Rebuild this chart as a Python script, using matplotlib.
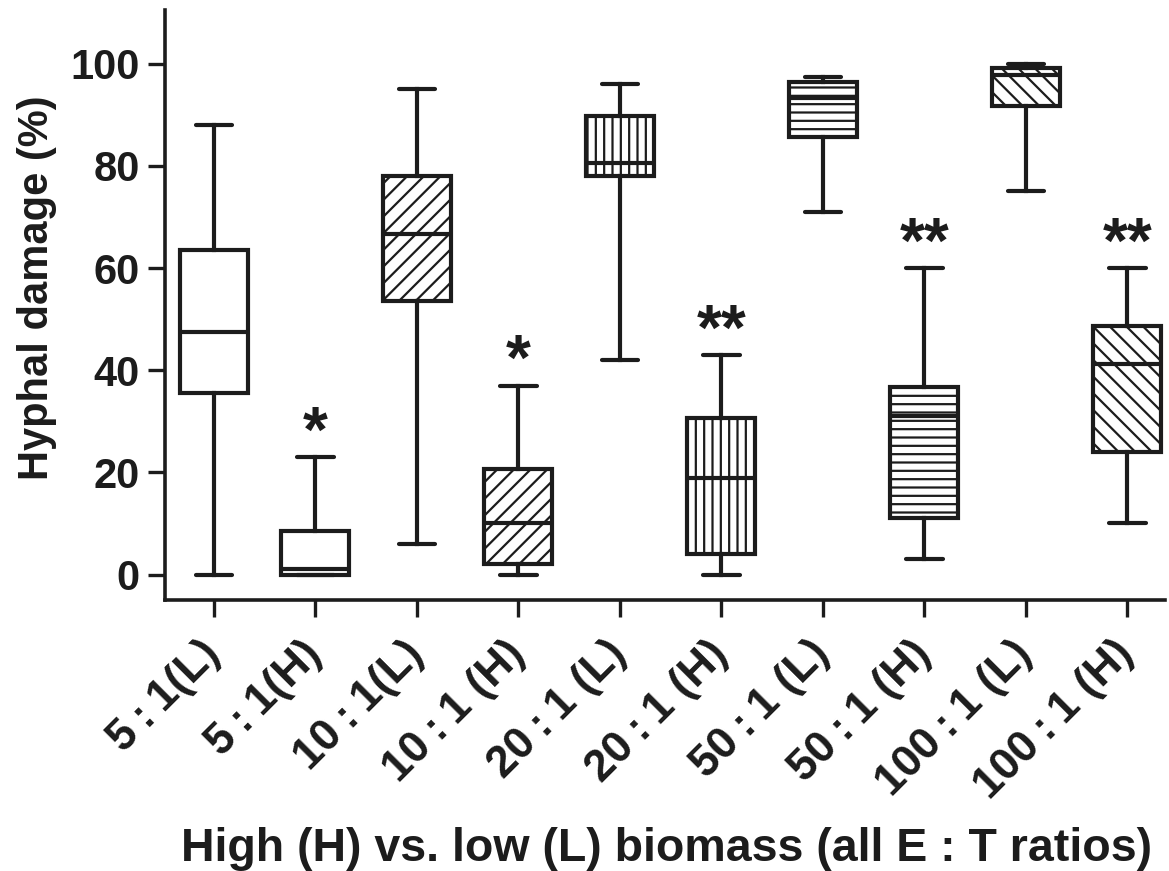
import matplotlib
matplotlib.use("Agg")
import matplotlib.pyplot as plt

categories = ["5\u2009:\u20091(L)", "5\u2009:\u20091(H)", "10\u2009:\u20091(L)",
              "10\u2009:\u20091 (H)", "20\u2009:\u20091 (L)", "20\u2009:\u20091 (H)",
              "50\u2009:\u20091 (L)", "50\u2009:\u20091 (H)", "100\u2009:\u20091 (L)",
              "100\u2009:\u20091 (H)"]
whisker_low = [0, 0, 6, 0, 42, 0, 71, 3, 75, 10]
q1 = [35.6, 0, 53.5, 2, 78, 4, 85.6, 11, 91.8, 23.9]
median = [47.5, 1, 66.6, 10, 80.5, 19, 93.3, 31.1, 97.8, 41.3]
q3 = [63.6, 8.6, 78, 20.7, 89.7, 30.7, 96.4, 36.7, 99.2, 48.7]
whisker_high = [88, 23, 95, 37, 96, 43, 97.3, 60, 100, 60]
significance = ["", "*", "", "*", "", "**", "", "**", "", "**"]
hatches = ["", "", "//", "//", "||", "||", "--", "--", "\\\\", "\\\\"]
yticks = [0, 20, 40, 60, 80, 100]

plt.rcParams["font.family"] = ["Liberation Sans", "DejaVu Sans"]
plt.rcParams["font.weight"] = "bold"
plt.rcParams["hatch.linewidth"] = 1.6
plt.rcParams["hatch.color"] = "#1c1c1c"

ink = "#1c1c1c"
fig = plt.figure(figsize=(11.69, 8.71), dpi=100)
ax = fig.add_axes([0.141, 0.311, 0.8556, 0.6775])

stats = []
for i in range(len(categories)):
    stats.append(dict(med=median[i], q1=q1[i], q3=q3[i],
                      whislo=whisker_low[i], whishi=whisker_high[i],
                      fliers=[], label=categories[i]))

lw = 3.0
bp = ax.bxp(stats, positions=range(len(categories)), widths=0.67,
            patch_artist=True, showfliers=False,
            boxprops=dict(facecolor="white", edgecolor=ink, linewidth=lw),
            medianprops=dict(color=ink, linewidth=lw),
            whiskerprops=dict(color=ink, linewidth=lw),
            capprops=dict(color=ink, linewidth=lw, solid_capstyle="round"),
            capwidths=0.36)
for patch, h in zip(bp["boxes"], hatches):
    patch.set_hatch(h)

for i, s in enumerate(significance):
    if s:
        ax.annotate(s, xy=(i, whisker_high[i]), xytext=(0, 4),
                    textcoords="offset points", ha="center", va="baseline",
                    fontsize=46, fontweight="bold", color=ink)

ax.set_xlim(-0.483, 9.37)
ax.set_ylim(-5, 110.5)
ax.set_yticks(yticks)
ax.set_yticklabels([str(v) for v in yticks], fontsize=30, fontweight="bold")
ax.set_xticks(range(len(categories)))
ax.set_xticklabels(categories, rotation=45, ha="right", va="center",
                   rotation_mode="anchor", fontsize=32, fontweight="bold")
for sp in ["top", "right"]:
    ax.spines[sp].set_visible(False)
for sp in ["left", "bottom"]:
    ax.spines[sp].set_linewidth(2.6)
    ax.spines[sp].set_color(ink)
ax.tick_params(axis="both", direction="out", length=12, width=2.4, color=ink,
               labelcolor=ink)
ax.tick_params(axis="y", pad=6)
ax.tick_params(axis="x", pad=22)

ax.set_ylabel("Hyphal damage (%)", fontsize=30, fontweight="bold", color=ink)
ax.yaxis.set_label_coords(-0.108, 0.53)
fig.text(0.570, 0.012, "High (H) vs. low (L) biomass (all E : T ratios)",
         ha="center", va="baseline", fontsize=33.5, fontweight="bold", color=ink)

fig.savefig("out.png", dpi=100)
